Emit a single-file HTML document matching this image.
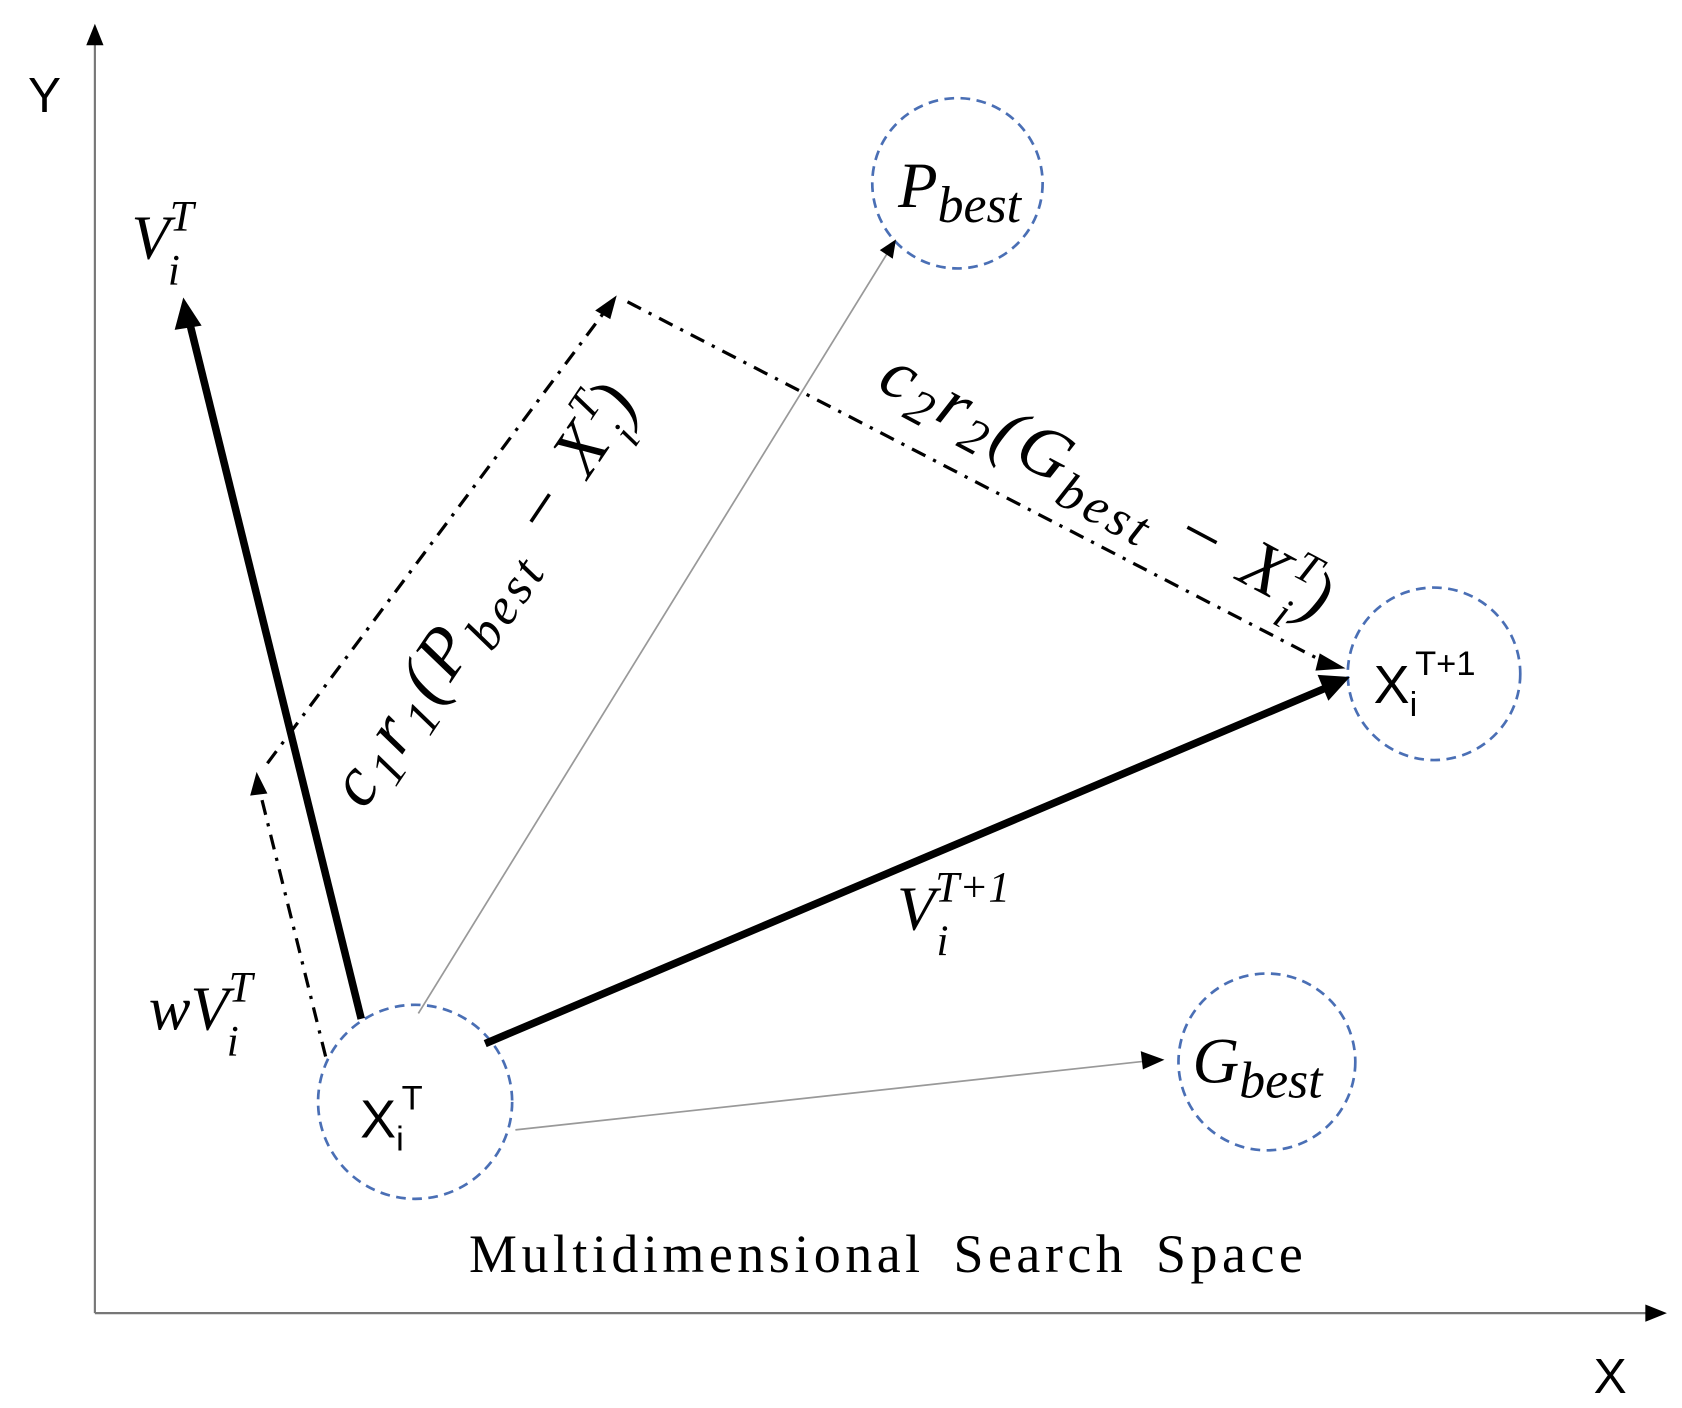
<!DOCTYPE html>
<html><head><meta charset="utf-8"><style>html,body{margin:0;padding:0;background:#fff}svg{display:block}</style></head>
<body>
<svg width="1682" height="1408" viewBox="0 0 1560 1306" preserveAspectRatio="none" xmlns="http://www.w3.org/2000/svg">
<!-- axes -->
<line x1="88" y1="1218" x2="88" y2="40" stroke="#777" stroke-width="2"/>
<path d="M80,42 L88,22 L96,42 z" fill="#000"/>
<line x1="88" y1="1218" x2="1528" y2="1218" stroke="#777" stroke-width="2"/>
<path d="M1526,1210 L1546,1218 L1526,1226 z" fill="#000"/>
<text x="26" y="104" font-family="Liberation Sans, sans-serif" font-size="46">Y</text>
<text x="1478" y="1292" font-family="Liberation Sans, sans-serif" font-size="46">X</text>
<!-- circles -->
<g fill="none" stroke="#4a6fb5" stroke-width="2.5" stroke-dasharray="9,6">
<circle cx="888" cy="170" r="79"/>
<circle cx="1330" cy="625" r="80"/>
<circle cx="1175" cy="985" r="82"/>
<circle cx="385" cy="1022" r="90"/>
</g>
<!-- thin gray -->
<line x1="388" y1="940" x2="826" y2="230" stroke="#999" stroke-width="1.6"/>
<path d="M816,232 L831,222 L828,240 z" fill="#000"/>
<line x1="478" y1="1048" x2="1065" y2="984" stroke="#999" stroke-width="1.6"/>
<path d="M1058,975 L1080,983 L1060,992 z" fill="#000"/>
<!-- bold arrows -->
<line x1="335" y1="945" x2="176" y2="300" stroke="#000" stroke-width="7"/>
<path d="M162,306 L170,276 L187,302 z" fill="#000"/>
<line x1="450" y1="968" x2="1230" y2="638" stroke="#000" stroke-width="7"/>
<path d="M1222,626 L1252,628 L1232,650 z" fill="#000"/>
<!-- dash-dot -->
<g fill="none" stroke="#000" stroke-width="3" stroke-dasharray="14,8,3,8">
<line x1="302" y1="980" x2="240" y2="730"/>
<line x1="248" y1="708" x2="560" y2="290"/>
<line x1="582" y1="280" x2="1230" y2="615"/>
</g>
<path d="M232,738 L238,716 L248,736 z" fill="#000"/>
<path d="M552,288 L572,274 L566,296 z" fill="#000"/>
<path d="M1224,606 L1248,620 L1220,622 z" fill="#000"/>
<!-- labels -->
<g font-family="Liberation Serif, serif" font-style="italic" fill="#000">
<text x="122" y="240" font-size="58">V<tspan font-size="40" dy="-26">T</tspan><tspan font-size="40" dx="-24" dy="50">i</tspan></text>
<text x="138" y="955" font-size="58">wV<tspan font-size="40" dy="-26">T</tspan><tspan font-size="40" dx="-24" dy="50">i</tspan></text>
<text x="832" y="862" font-size="58">V<tspan font-size="40" dy="-26">T+1</tspan><tspan font-size="40" dx="-68" dy="50">i</tspan></text>
<text x="833" y="192" font-size="60">P<tspan font-size="48" dy="14">best</tspan></text>
<text x="1106" y="1004" font-size="60">G<tspan font-size="48" dy="14">best</tspan></text>
<text transform="translate(338,752) rotate(-56)" font-size="66" letter-spacing="4">c<tspan font-size="46" dy="12">1</tspan><tspan dy="-12">r</tspan><tspan font-size="46" dy="12">1</tspan><tspan dy="-12">(P</tspan><tspan font-size="48" dy="16">best</tspan><tspan dy="-16"> − X</tspan><tspan font-size="40" dy="-28">T</tspan><tspan font-size="40" dx="-22" dy="48">i</tspan><tspan dy="-20">)</tspan></text>
<text transform="translate(812,360) rotate(28)" font-size="66" letter-spacing="4">c<tspan font-size="46" dy="12">2</tspan><tspan dy="-12">r</tspan><tspan font-size="46" dy="12">2</tspan><tspan dy="-12">(G</tspan><tspan font-size="48" dy="16">best</tspan><tspan dy="-16"> − X</tspan><tspan font-size="40" dy="-28">T</tspan><tspan font-size="40" dx="-22" dy="48">i</tspan><tspan dy="-20">)</tspan></text>
</g>
<g font-family="Liberation Sans, sans-serif" fill="#000">
<text x="334" y="1055" font-size="50">X<tspan font-size="32" dy="12">i</tspan><tspan font-size="32" dx="-2" dy="-38">T</tspan></text>
<text x="1274" y="652" font-size="50">X<tspan font-size="32" dy="12">i</tspan><tspan font-size="32" dx="-2" dy="-38">T+1</tspan></text>
</g>
<text x="435" y="1180" font-family="Liberation Serif, serif" font-size="50" letter-spacing="4.2" word-spacing="10">Multidimensional Search Space</text>
</svg>
</body></html>
